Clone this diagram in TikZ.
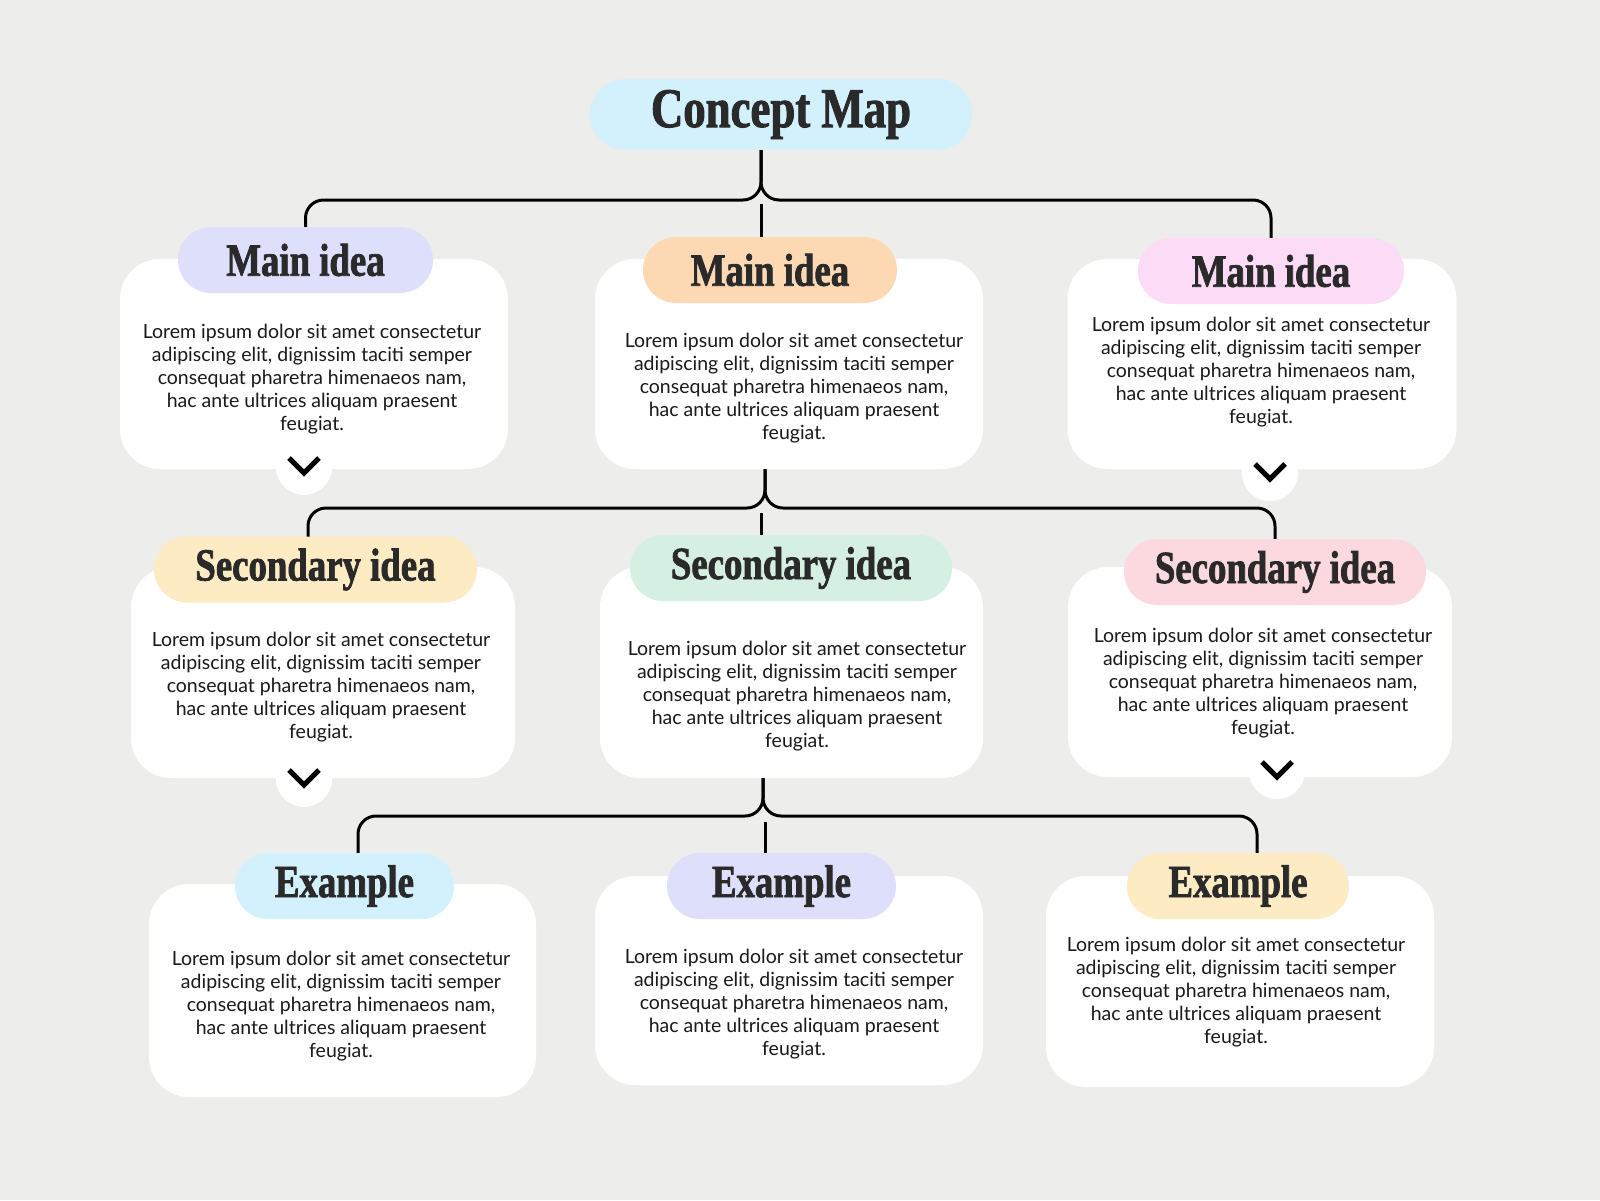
\documentclass[tikz,border=0pt]{standalone}
\usepackage{fontspec}
\setmainfont{Lato}
\newfontfamily\headfont[FakeStretch=0.8,FakeBold=1.6]{Liberation Serif}
\usetikzlibrary{calc}

\definecolor{paper}{HTML}{EDEDEB}
\definecolor{ink}{HTML}{1A1A1A}
\definecolor{headink}{HTML}{2A2A2A}
\definecolor{cyanpill}{HTML}{D3F1FD}
\definecolor{lilacpill}{HTML}{DEDFFB}
\definecolor{peachpill}{HTML}{FDD9B3}
\definecolor{pinkpill}{HTML}{FCDBF7}
\definecolor{butterpill}{HTML}{FDEBC4}
\definecolor{mintpill}{HTML}{D5EFE2}
\definecolor{rosepill}{HTML}{FCD9DF}

\newcommand{\loremtext}{Lorem ipsum dolor sit amet consectetur\\
  adipiscing elit, dignissim taciti semper\\
  consequat pharetra himenaeos nam,\\
  hac ante ultrices aliquam praesent\\
  feugiat.}

\begin{document}
\begin{tikzpicture}
[x=1pt,y=-1pt,
  carddecorate/.style={shape=rectangle,rounded corners=40pt,fill=white,inner sep=0pt},%
  pilldecorate/.style={shape=rectangle,rounded corners=33pt,minimum height=66pt,
    inner sep=0pt,text=headink,font=\headfont\bfseries\fontsize{46}{50}\selectfont},%
  textdecorate/.style={align=center,text=ink,inner sep=0pt,
    font=\fontsize{19.5}{23}\selectfont},%
  linedecorate/.style={-,line width=3pt,rounded corners=18pt},%
  chevdecorate/.style={-,line width=5pt,miter limit=4}]
\fill[paper] (0,0) rectangle (1600,1200);
\useasboundingbox (0,0) rectangle (1600,1200);

%% title
\node (title) at (781,114.5) [pilldecorate,fill=cyanpill,minimum width=382pt,
  minimum height=71pt,rounded corners=35pt,
  font=\headfont\bfseries\fontsize{56}{60}\selectfont] {Concept Map};

%% cards
\foreach \cardname/\x/\y/\w/\h in {A1/314/364/388/210, B1/789/364/388/210,
  C1/1262/364/389/210, A2/323/672.5/384/211, B2/791.5/672.5/383/211,
  C2/1260/672/384/210, A3/342.5/990.5/387/213, B3/789/980.5/388/209,
  C3/1240/981.5/388/211}
{
  \node (card\cardname) at (\x,\y) [carddecorate,minimum width=\w pt,
    minimum height=\h pt] {};
}

%% chevron tabs
\foreach \chevname/\x/\y in {A1/304/465, C1/1270/471, A2/304/777, C2/1277/769}
{
  \coordinate (chev\chevname) at (\x,\y);
  \fill[white] (chev\chevname) ++(0,2) circle[radius=28pt];
  \draw[chevdecorate] ($(chev\chevname)+(-15,-7)$) -- ++(15,15) -- ++(15,-15);
}

%% body texts
\foreach \cardname/\x/\y in {A1/312/379, B1/794/388, C1/1261/372,
  A2/321/687, B2/797/696, C2/1263/683, A3/341/1006, B3/794/1004, C3/1236/992}
{
  \node (txt\cardname) at (\x,\y) [textdecorate] {\loremtext};
}

%% hubs
\coordinate (hub1) at (761,150);
\coordinate (hub2) at (765,469);
\coordinate (hub3) at (763,778);

%% edges or lines
\draw[linedecorate] (hub1) -- ++(0,50) -| (305.5,227);
\draw[linedecorate] (hub1) -- ++(0,50) -| (1271,238);
\draw[linedecorate] (hub2) -- ++(0,39) -| (308,537);
\draw[linedecorate] (hub2) -- ++(0,39) -| (1275,539);
\draw[linedecorate] (hub3) -- ++(0,38) -| (358,853);
\draw[linedecorate] (hub3) -- ++(0,38) -| (1257,853);

%% pills
\foreach \pillname/\x/\y/\w/\colour/\pilltext in {A1/305.5/260/255/lilacpill/Main idea,
  B1/770/270/254/peachpill/Main idea, C1/1271/271/266/pinkpill/Main idea,
  A2/315.5/569.5/323/butterpill/Secondary idea,
  B2/791/568/322/mintpill/Secondary idea,
  C2/1275/572/302/rosepill/Secondary idea,
  A3/344.5/886/219/cyanpill/Example, B3/781.5/886/229/lilacpill/Example,
  C3/1238/886/222/butterpill/Example}
{
  \node (pill\pillname) at (\x,\y) [pilldecorate,fill=\colour,
    minimum width=\w pt] {\pilltext};
}

%% stubs to the middle pills
\draw[linedecorate] (pillB1.north -| hub1) -- ++(0,-33);
\draw[linedecorate] (pillB2.north -| hub1) -- ++(0,-22);
\draw[linedecorate] (pillB3.north -| hub2) -- ++(0,-31);
\end{tikzpicture}
\end{document}
